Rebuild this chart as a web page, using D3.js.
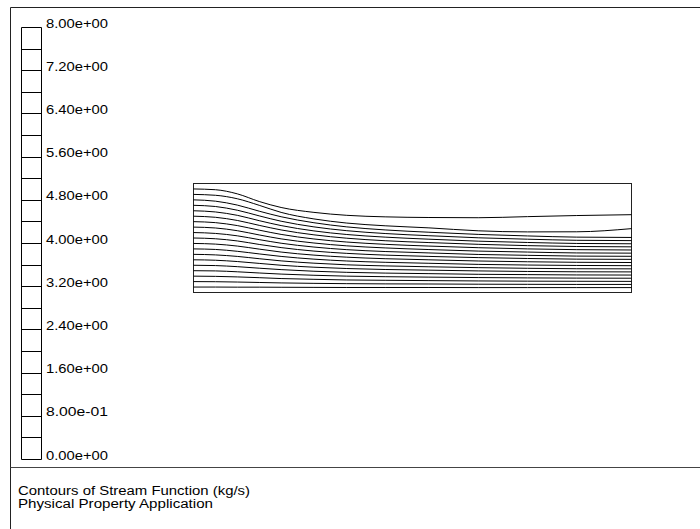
<!DOCTYPE html>
<html>
<head>
<meta charset="utf-8">
<script src="https://cdn.jsdelivr.net/npm/d3@7"></script>
<style>
  html, body { margin: 0; padding: 0; background: #fff; }
  svg { display: block; }
  text { font-family: "Liberation Sans", Arial, Helvetica, sans-serif; fill: #000; }
</style>
</head>
<body>
<svg id="chart" width="700" height="529"></svg>
<script>
// Colour-map range and the labelled values on it
const mapMin = 0;
const mapMax = 8;
const bandLevels = [0, 0.4, 0.8, 1.2, 1.6, 2.0, 2.4, 2.8, 3.2, 3.6, 4.0, 4.4, 4.8, 5.2, 5.6, 6.0, 6.4, 6.8, 7.2, 7.6, 8.0];
const tickValues = [0, 0.8, 1.6, 2.4, 3.2, 4.0, 4.8, 5.6, 6.4, 7.2, 8.0];
const tickLabels = ["0.00e+00", "8.00e-01", "1.60e+00", "2.40e+00", "3.20e+00", "4.00e+00",
                    "4.80e+00", "5.60e+00", "6.40e+00", "7.20e+00", "8.00e+00"];

// Flow domain extent (mm)
const domainX = [0, 400];
const domainY = [0, 100];

// Stations along the channel where each stream-function contour is sampled
const stationX = [0, 20, 40, 60, 80, 110, 140, 175, 215, 260, 305, 350, 400];

// Stream-function levels drawn as contours
const contourLevels = [0.4, 0.8, 1.2, 1.6, 2.0, 2.4, 2.8, 3.2, 3.6, 4.0, 4.4, 4.8, 5.2, 5.6, 6.0, 6.4, 6.8, 7.2, 7.6];

// Height (mm) of each contour at the stations above, one row per level
const psi04 = [5, 5.0, 4.9, 4.9, 4.8, 4.7, 4.6, 4.6, 4.6, 4.5, 4.5, 4.5, 4.5];
const psi08 = [10, 9.9, 9.6, 9.2, 8.8, 8.4, 8.1, 7.9, 7.8, 7.6, 7.5, 7.4, 7.4];
const psi12 = [15, 14.8, 14.3, 13.6, 12.8, 12.1, 11.5, 11.2, 10.9, 10.6, 10.4, 10.3, 10.2];
const psi16 = [20, 19.8, 19.0, 17.9, 16.9, 15.8, 15.0, 14.5, 14.1, 13.7, 13.4, 13.2, 13.1];
const psi20 = [25, 24.7, 23.7, 22.3, 21.0, 19.5, 18.5, 17.8, 17.3, 16.7, 16.4, 16.1, 16.0];
const psi24 = [30, 29.6, 28.4, 26.7, 25.0, 23.2, 22.0, 21.1, 20.5, 19.8, 19.3, 19.0, 18.9];
const psi28 = [35, 34.5, 33.1, 31.0, 29.0, 26.9, 25.4, 24.4, 23.6, 22.8, 22.2, 21.8, 21.7];
const psi32 = [40, 39.5, 37.8, 35.4, 33.1, 30.6, 28.9, 27.7, 26.8, 25.8, 25.2, 24.8, 24.6];
const psi36 = [45, 44.4, 42.6, 39.8, 37.1, 34.3, 32.4, 31.0, 30.0, 28.9, 28.2, 27.7, 27.5];
const psi40 = [50, 49.3, 47.3, 44.1, 41.2, 38.0, 35.9, 34.3, 33.1, 32.0, 31.2, 30.6, 30.4];
const psi44 = [55, 54.2, 52.0, 48.5, 45.2, 41.7, 39.3, 37.6, 36.3, 34.9, 34.1, 33.4, 33.2];
const psi48 = [60, 59.2, 56.7, 52.8, 49.2, 45.4, 42.8, 40.9, 39.4, 38.0, 37.1, 36.3, 36.1];
const psi52 = [65, 64.1, 61.4, 57.2, 53.3, 49.1, 46.3, 44.2, 42.6, 41.1, 40.0, 39.3, 39.0];
const psi56 = [70, 69.0, 66.1, 61.6, 57.4, 52.9, 49.8, 47.5, 45.8, 44.2, 43.0, 42.2, 41.9];
const psi60 = [75, 73.9, 70.8, 65.9, 61.4, 56.5, 53.2, 50.8, 48.9, 47.1, 45.9, 45.0, 44.7];
const psi64 = [80, 78.9, 75.5, 70.3, 65.4, 60.2, 56.7, 54.1, 52.1, 50.2, 48.9, 47.9, 47.6];
const psi68 = [85, 83.8, 80.2, 74.6, 69.5, 64.0, 60.2, 57.4, 55.3, 53.3, 51.9, 50.8, 50.5];
const psi72 = [90, 89.2, 86.0, 80.0, 73.5, 67.5, 63.7, 61.2, 59.3, 56.6, 55.6, 55.7, 58.6];
const psi76 = [95, 94.3, 90.5, 83.5, 78.0, 73.5, 70.8, 69.4, 68.8, 68.6, 69.6, 70.6, 71.4];

const contourRows = [psi04, psi08, psi12, psi16, psi20, psi24, psi28, psi32, psi36, psi40,
                     psi44, psi48, psi52, psi56, psi60, psi64, psi68, psi72, psi76];

// Caption lines
const captionLines = ["Contours of Stream Function (kg/s)", "Physical Property Application"];
const captionWidths = [232, 195];

const svg = d3.select("#chart");

// Outer frame and caption separator
svg.append("path")
  .attr("d", "M700,7.5 H10.5 V529")
  .attr("fill", "none")
  .attr("stroke", "#222")
  .attr("stroke-width", 1);
svg.append("line")
  .attr("x1", 10.5).attr("x2", 700)
  .attr("y1", 467.5).attr("y2", 467.5)
  .attr("stroke", "#444")
  .attr("stroke-width", 1);

// Colour bar (monochrome bands with labels)
const barX0 = 21.5, barX1 = 41.5;
const barScale = d3.scaleLinear().domain([mapMin, mapMax]).range([459.5, 27.5]);

const bar = svg.append("g").attr("class", "colorbar");
bar.append("line")
  .attr("x1", barX0).attr("x2", barX0)
  .attr("y1", barScale(mapMin)).attr("y2", barScale(mapMax))
  .attr("stroke", "#000");
bar.append("line")
  .attr("x1", barX1).attr("x2", barX1)
  .attr("y1", barScale(mapMin)).attr("y2", barScale(mapMax))
  .attr("stroke", "#000");
bar.selectAll("line.band")
  .data(bandLevels)
  .join("line")
  .attr("class", "band")
  .attr("x1", barX0).attr("x2", barX1)
  .attr("y1", d => Math.round(barScale(d) - 0.5) + 0.5)
  .attr("y2", d => Math.round(barScale(d) - 0.5) + 0.5)
  .attr("stroke", "#000");
bar.selectAll("text")
  .data(tickValues)
  .join("text")
  .attr("x", 46)
  .attr("y", d => barScale(d))
  .attr("font-size", 13)
  .attr("textLength", 62)
  .attr("lengthAdjust", "spacingAndGlyphs")
  .text((d, i) => tickLabels[i]);

// Flow domain
const x = d3.scaleLinear().domain(domainX).range([193.5, 631.5]);
const y = d3.scaleLinear().domain(domainY).range([292.5, 183.5]);

const plot = svg.append("g").attr("class", "domain");
plot.append("rect")
  .attr("x", x(domainX[0])).attr("y", y(domainY[1]))
  .attr("width", x(domainX[1]) - x(domainX[0]))
  .attr("height", y(domainY[0]) - y(domainY[1]))
  .attr("fill", "none")
  .attr("stroke", "#222")
  .attr("stroke-width", 1);

const lineGen = d3.line()
  .x(d => x(d[0]))
  .y(d => y(d[1]))
  .curve(d3.curveMonotoneX);

plot.selectAll("path.contour")
  .data(contourLevels.map((lvl, i) => ({ level: lvl, pts: stationX.map((sx, j) => [sx, contourRows[i][j]]) })))
  .join("path")
  .attr("class", "contour")
  .attr("d", d => lineGen(d.pts))
  .attr("fill", "none")
  .attr("stroke", "#000")
  .attr("stroke-width", 1);

// Caption
svg.selectAll("text.caption")
  .data(captionLines)
  .join("text")
  .attr("class", "caption")
  .attr("x", 18)
  .attr("y", (d, i) => 495 + i * 13)
  .attr("font-size", 12.5)
  .attr("textLength", (d, i) => captionWidths[i])
  .attr("lengthAdjust", "spacingAndGlyphs")
  .text(d => d);
</script>
</body>
</html>
